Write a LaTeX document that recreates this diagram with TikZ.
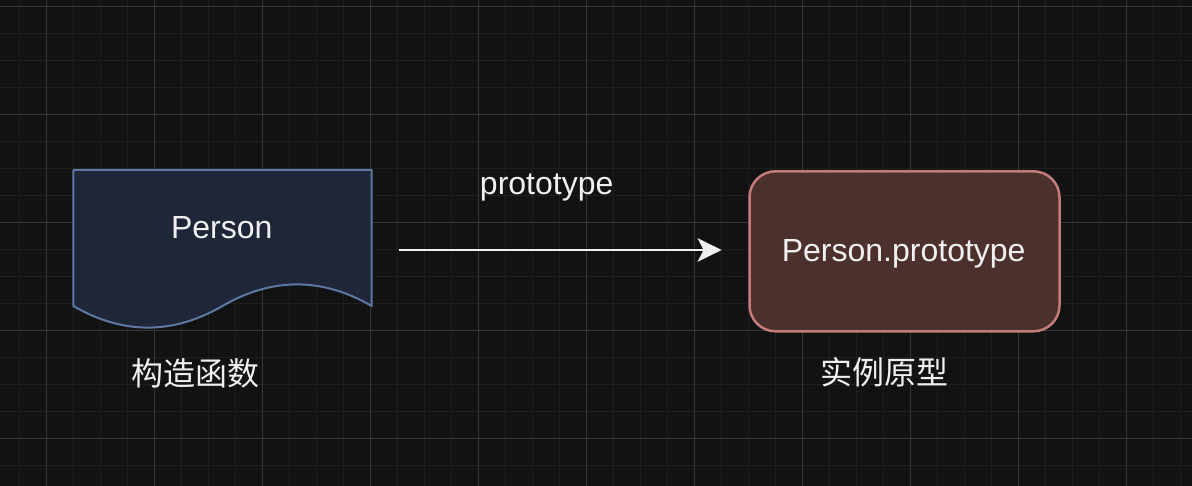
\documentclass[tikz,border=0pt]{standalone}
\usepackage{fontspec}
\setmainfont{Liberation Sans}
\newfontfamily\cjk{Noto Sans CJK SC}
\usetikzlibrary{arrows.meta}
\definecolor{bgc}{HTML}{121212}
\definecolor{gridminor}{HTML}{1E1E1E}
\definecolor{gridmajor}{HTML}{363636}
\definecolor{docfill}{HTML}{1E2638}
\definecolor{docline}{HTML}{5C78A3}
\definecolor{protofill}{HTML}{4B302E}
\definecolor{protoline}{HTML}{C47C78}
\definecolor{txtc}{HTML}{F0F0F0}
\tikzset{
  txt/.style={text=txtc, inner sep=0pt, font=\fontsize{32pt}{38pt}\selectfont},
  cjktxt/.style={text=txtc, inner sep=0pt, font=\cjk\fontsize{32pt}{38pt}\selectfont},
  arrowline/.style={draw=txtc, line width=2.6pt, -{Stealth[length=24pt, width=23.4pt, inset=6pt]}},
}
\begin{document}
\begin{tikzpicture}[x=1pt, y=-1pt]
  \fill[bgc] (0,0) rectangle (1192,486);
  \useasboundingbox (0,0) rectangle (1192,486);
  % grid
  \foreach \i in {0,...,44} \draw[gridminor, line width=1pt] ({19.3+27*\i},0) -- ({19.3+27*\i},486);
  \foreach \i in {0,...,17} \draw[gridminor, line width=1pt] (0,{6.3+27*\i}) -- (1192,{6.3+27*\i});
  \foreach \i in {0,...,10} \draw[gridmajor, line width=1pt] ({46.3+108*\i},0) -- ({46.3+108*\i},486);
  \foreach \i in {0,...,4} \draw[gridmajor, line width=1pt] (0,{6.3+108*\i}) -- (1192,{6.3+108*\i});
  % document shape
  \node[inner sep=0pt, minimum width=298.4pt, minimum height=160pt] (doc) at (222.5,250) {};
  \draw[fill=docfill, draw=docline, line width=2pt, line join=round]
    (73.3,170) -- (371.7,170) -- (371.7,306)
    .. controls (322.0,277.2) and (272.2,277.2) .. (222.5,306)
    .. controls (172.8,334.8) and (123.0,334.8) .. (73.3,306) -- cycle;
  \node[txt, anchor=base] (doclabel) at (221.7,238.3) {Person};
  % rounded rectangle
  \node[draw=protoline, fill=protofill, line width=2.5pt, rounded corners=26pt,
        inner sep=0pt, minimum width=310pt, minimum height=160pt] (proto) at (904.5,251.3) {};
  \node[txt, anchor=base] (protolabel) at (903.7,261.7) {Person.prototype};
  % arrow
  \draw[arrowline] ([xshift=26.6pt]doc.east |- 0,250) -- ([xshift=-26.6pt]proto.west |- 0,250);
  \node[txt, anchor=base] (edgelabel) at (546.7,195) {prototype};
  % captions
  \node[cjktxt] (doccap) at (195,373.7) {构造函数};
  \node[cjktxt] (protocap) at (884.2,372.5) {实例原型};
\end{tikzpicture}
\end{document}
